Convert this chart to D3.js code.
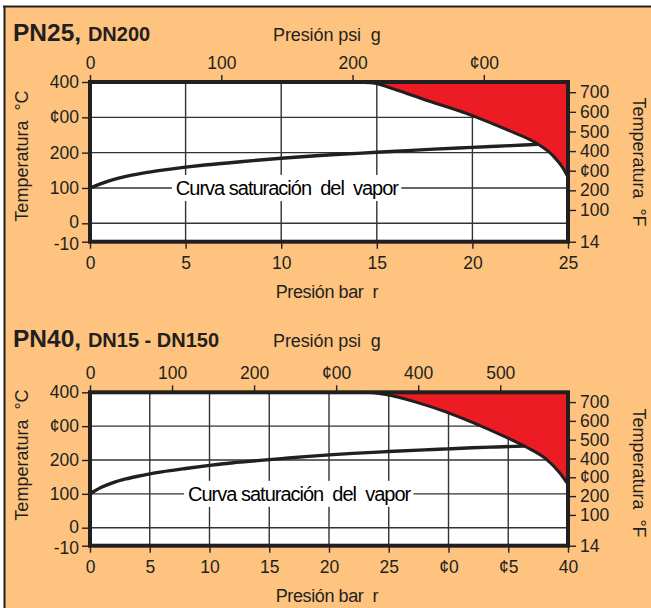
<!DOCTYPE html>
<html><head><meta charset="utf-8">
<script src="https://cdn.jsdelivr.net/npm/d3@7"></script>
<style>
body{margin:0;padding:0;background:#fff;}
svg{display:block;font-family:"Liberation Sans",Arial,Helvetica,sans-serif;}
text{white-space:pre;}
</style></head><body>
<script>
// ---------- data ----------
const tempCTicks = [-10, 0, 100, 200, 300, 400];
const tempCLabels = ["-10", "0", "100", "200", "¢00", "400"];
const tempFTicks = [14, 100, 200, 300, 400, 500, 600, 700];
const tempFLabels = ["14", "100", "200", "¢00", "400", "500", "600", "700"];

// PN25 DN200
const c1BarTicks = [0, 5, 10, 15, 20, 25];
const c1BarLabels = ["0", "5", "10", "15", "20", "25"];
const c1PsiTicks = [0, 100, 200, 300];
const c1PsiLabels = ["0", "100", "200", "¢00"];
const c1SatBar = [0, 1, 2, 3, 4, 5, 6, 8, 10, 12, 14, 16, 18, 20, 22, 23.4];
const c1SatC   = [100, 120, 134, 144, 152, 159, 165, 175, 184, 192, 198, 204, 210, 215, 220, 223.5];
const c1LimBar = [13.8, 14.8, 16, 17.4, 20.0, 21.8, 23.4, 24.2, 24.75, 25];
const c1LimC   = [400, 397, 378, 352, 305, 265, 225, 192, 155, 130];

// PN40 DN15 - DN150
const c2BarTicks = [0, 5, 10, 15, 20, 25, 30, 35, 40];
const c2BarLabels = ["0", "5", "10", "15", "20", "25", "¢0", "¢5", "40"];
const c2PsiTicks = [0, 100, 200, 300, 400, 500];
const c2PsiLabels = ["0", "100", "200", "¢00", "400", "500"];
const c2SatBar = [0, 1, 2, 3, 4, 5, 6, 8, 10, 12, 14, 16, 18, 20, 22, 25, 28, 30, 32, 34, 36.3];
const c2SatC   = [100, 120, 134, 144, 152, 159, 165, 175, 184, 192, 198, 204, 210, 215, 219.5, 225, 230, 233, 236, 238.5, 241];
const c2LimBar = [22.8, 23.7, 27.9, 32.1, 34.9, 36.5, 38.2, 39.3, 40];
const c2LimC   = [400, 398.5, 364.5, 310, 266, 238.5, 202, 162.5, 128];

const satLabel = "Curva saturación  del  vapor";

// ---------- layout ----------
const W = 651, H = 608;
const INK = "#231f20", ORANGE = "#fec47f", RED = "#ed1c24";
const PSI_PER_BAR = 14.5038;

const svg = d3.select("body").append("svg").attr("width", W).attr("height", H);
svg.append("rect").attr("width", W).attr("height", H).attr("fill", "#fff");
svg.append("rect").attr("x", 4).attr("y", 6).attr("width", W - 4).attr("height", H - 6).attr("fill", ORANGE);
svg.append("line").attr("x1", 3).attr("x2", W).attr("y1", 6.5).attr("y2", 6.5).attr("stroke", INK).attr("stroke-width", 2);
svg.append("line").attr("x1", 4.5).attr("x2", 4.5).attr("y1", 6).attr("y2", H).attr("stroke", INK).attr("stroke-width", 2);

function drawChart(cfg) {
  const g = svg.append("g");
  const x = d3.scaleLinear().domain([0, cfg.maxBar]).range([90, 568]);
  const xPsi = d3.scaleLinear().domain([0, cfg.maxBar * PSI_PER_BAR]).range([90, 566]);
  const y = d3.scaleLinear().domain([-10, 0, 400]).range([cfg.bottom, cfg.zero, cfg.top]);
  const yF = d3.scaleLinear().domain([14, 32, 752]).range([cfg.bottom, cfg.zero, cfg.top]);

  // titles
  const t = g.append("text").attr("x", 13).attr("y", cfg.titleY).attr("fill", INK).attr("font-weight", "bold");
  t.append("tspan").attr("font-size", 24.5).text(cfg.pn + ", ");
  t.append("tspan").attr("font-size", 20).text(cfg.dn);
  g.append("text").attr("x", 273).attr("y", cfg.titleY).attr("font-size", 18).attr("fill", INK)
    .attr("letter-spacing", -0.1).text("Presión psi  g");

  // plot background
  g.append("rect").attr("x", x(0)).attr("y", y(400)).attr("width", x(cfg.maxBar) - x(0))
    .attr("height", y(-10) - y(400)).attr("fill", "#fff");

  // grid
  g.append("g").selectAll("line").data(cfg.barTicks.slice(1, -1)).join("line")
    .attr("x1", d => x(d)).attr("x2", d => x(d)).attr("y1", y(400)).attr("y2", y(-10))
    .attr("stroke", "#333").attr("stroke-width", 1.4);
  g.append("g").selectAll("line").data([0, 100, 200, 300]).join("line")
    .attr("x1", x(0)).attr("x2", x(cfg.maxBar)).attr("y1", d => y(d)).attr("y2", d => y(d))
    .attr("stroke", "#333").attr("stroke-width", 1.4);

  // limit region
  const lim = cfg.limBar.map((b, i) => [b, cfg.limC[i]]);
  const line = d3.line().x(d => x(d[0])).y(d => y(d[1])).curve(d3.curveMonotoneX);
  const area = d3.area().x(d => x(d[0])).y0(y(400)).y1(d => y(d[1])).curve(d3.curveMonotoneX);
  g.append("path").attr("d", area(lim)).attr("fill", RED);
  g.append("path").attr("d", line(lim)).attr("fill", "none").attr("stroke", INK).attr("stroke-width", 3);

  // saturation curve
  const sat = cfg.satBar.map((b, i) => [b, cfg.satC[i]]);
  g.append("path").attr("d", line(sat)).attr("fill", "none").attr("stroke", INK).attr("stroke-width", 3.4)
    .attr("stroke-linecap", "round");

  // label
  const lbl = g.append("text").attr("x", x(cfg.labelBar)).attr("y", y(100) + 7).attr("text-anchor", "middle")
    .attr("font-size", 20).attr("letter-spacing", -1.0).attr("fill", "#000").text(satLabel);
  const bb = lbl.node().getBBox();
  g.insert("rect", "text:last-of-type").attr("x", bb.x - 4).attr("y", y(100) - 13).attr("width", bb.width + 6)
    .attr("height", 26).attr("fill", "#fff");
  lbl.raise();

  // border
  g.append("rect").attr("x", x(0)).attr("y", y(400)).attr("width", x(cfg.maxBar) - x(0))
    .attr("height", y(-10) - y(400)).attr("fill", "none").attr("stroke", INK).attr("stroke-width", 4);

  // axes
  function style(ax) {
    ax.select(".domain").remove();
    ax.selectAll(".tick line").attr("stroke", INK).attr("stroke-width", 1.4);
    ax.selectAll(".tick text").attr("fill", INK).attr("font-size", 17.5)
      .attr("font-family", "'Liberation Sans',Arial,Helvetica,sans-serif");
  }
  g.append("g").attr("transform", `translate(0,${y(-10)})`)
    .call(d3.axisBottom(x).tickValues(cfg.barTicks).tickFormat((d, i) => cfg.barLabels[i]).tickSize(7).tickPadding(8))
    .call(style);
  g.append("g").attr("transform", `translate(0,${y(400)})`)
    .call(d3.axisTop(xPsi).tickValues(cfg.psiTicks).tickFormat((d, i) => cfg.psiLabels[i]).tickSize(7).tickPadding(6))
    .call(style);
  const left = g.append("g").attr("transform", `translate(${x(0)},0)`)
    .call(d3.axisLeft(y).tickValues(tempCTicks).tickFormat((d, i) => tempCLabels[i]).tickSize(8).tickPadding(3))
    .call(style);
  // slight separation of the two closely spaced lowest labels
  left.selectAll(".tick text").attr("dy", d => d === -10 ? "0.42em" : d === 0 ? "0.26em" : "0.32em");
  g.append("g").attr("transform", `translate(${x(cfg.maxBar)},0)`)
    .call(d3.axisRight(yF).tickValues(tempFTicks).tickFormat((d, i) => tempFLabels[i]).tickSize(8).tickPadding(4))
    .call(style);

  // axis titles
  g.append("text").attr("x", 327).attr("y", y(-10) + 56).attr("text-anchor", "middle").attr("font-size", 18)
    .attr("letter-spacing", -0.4).attr("fill", INK).text("Presión bar  r");
  g.append("text").attr("transform", `translate(28,${cfg.cLabelY}) rotate(-90)`).attr("text-anchor", "middle")
    .attr("font-size", 18).attr("fill", INK).text("Temperatura  °C");
  g.append("text").attr("transform", `translate(633,${cfg.fLabelY}) rotate(90)`).attr("text-anchor", "middle")
    .attr("font-size", 18).attr("fill", INK).text("Temperatura  °F");
}

drawChart({
  pn: "PN25", dn: "DN200", titleY: 40.5, maxBar: 25, top: 82, zero: 223.3, bottom: 241.7,
  barTicks: c1BarTicks, barLabels: c1BarLabels, psiTicks: c1PsiTicks, psiLabels: c1PsiLabels,
  satBar: c1SatBar, satC: c1SatC, limBar: c1LimBar, limC: c1LimC, labelBar: 10.3,
  cLabelY: 156, fLabelY: 162
});
drawChart({
  pn: "PN40", dn: "DN15 - DN150", titleY: 346.5, maxBar: 40, top: 392.3, zero: 527.7, bottom: 545.7,
  barTicks: c2BarTicks, barLabels: c2BarLabels, psiTicks: c2PsiTicks, psiLabels: c2PsiLabels,
  satBar: c2SatBar, satC: c2SatC, limBar: c2LimBar, limC: c2LimC, labelBar: 17.5,
  cLabelY: 455, fLabelY: 473
});
</script>
</body></html>
